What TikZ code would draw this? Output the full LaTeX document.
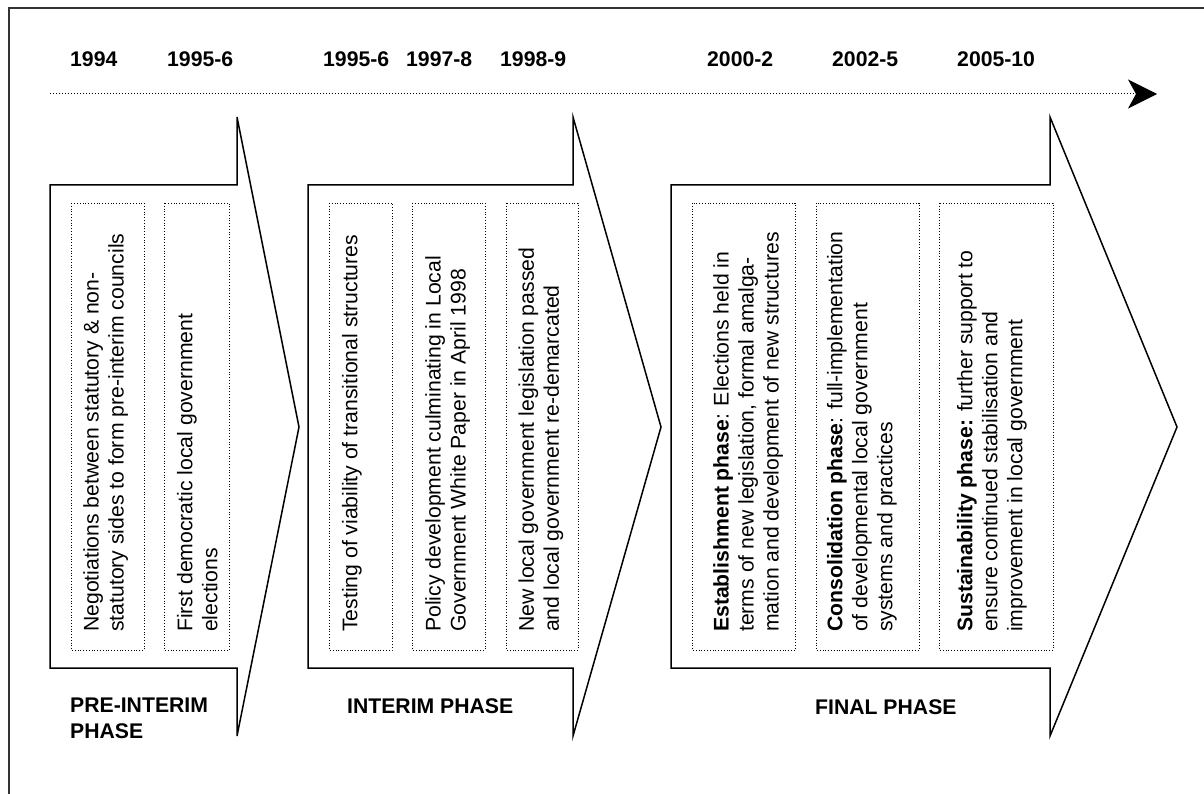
\documentclass[tikz,border=0pt]{standalone}
\usepackage{fontspec}
\setmainfont{Liberation Sans}
\usetikzlibrary{arrows.meta}
\begin{document}
\begin{tikzpicture}[x=1pt,y=-1pt,
  phasearrow/.style={line width=1.5pt, line join=miter, fill=white},
  dotbox/.style={line width=0.9pt, dash pattern=on 0.9pt off 1.9pt},
  yearlbl/.style={font=\fontsize{21.2}{25}\selectfont\bfseries, inner sep=0, anchor=base west},
  phaselbl/.style={font=\fontsize{21.2}{25.5}\selectfont\bfseries, inner sep=0, align=left},
  note/.style={font=\fontsize{21.2}{25}\selectfont, inner sep=0, rotate=90, anchor=north west, align=left}]
\useasboundingbox (0,0) rectangle (1204,794);

% frame
\draw[line width=1.5pt, black!80] (9,794) -- (9,8) -- (1204,8);

% years
\node[yearlbl] (y1) at (70,66.7) {1994};
\node[yearlbl] (y2) at (167,66.7) {1995-6};
\node[yearlbl] (y3) at (323,66.7) {1995-6};
\node[yearlbl] (y4) at (406,66.7) {1997-8};
\node[yearlbl] (y5) at (500,66.7) {1998-9};
\node[yearlbl] (y6) at (707,66.7) {2000-2};
\node[yearlbl] (y7) at (832,66.7) {2002-5};
\node[yearlbl] (y8) at (957,66.7) {2005-10};

% time axis
\coordinate (t0) at (50,94);
\coordinate (t1) at (1157,94);
\draw[line width=1pt, dash pattern=on 1pt off 2pt,
      -{Stealth[length=29pt,width=29pt,inset=8pt]}] (t0) -- (t1);

% phase arrows
\draw[phasearrow] (50,185) -- (237,185) -- (237,117) -- (299,427) -- (237,736) -- (237,668) -- (50,668) -- cycle;
\draw[phasearrow] (308,185) -- (573,185) -- (573,117) -- (661,427) -- (573,736) -- (573,668) -- (308,668) -- cycle;
\draw[phasearrow] (671,185) -- (1050,185) -- (1050,117) -- (1177,427) -- (1050,736) -- (1050,668) -- (671,668) -- cycle;

% event boxes
\draw[dotbox] (71,203) rectangle (144,650);
\draw[dotbox] (164,203) rectangle (229,650);
\draw[dotbox] (329,203) rectangle (392,650);
\draw[dotbox] (412,203) rectangle (485,650);
\draw[dotbox] (506,203) rectangle (578,650);
\draw[dotbox] (692,203) rectangle (795,650);
\draw[dotbox] (816,203) rectangle (919,650);
\draw[dotbox] (939,203) rectangle (1053,650);

% event texts
\node[note] (e1) at (83,632) {Negotiations between statutory \& non-\\statutory sides to form pre-interim councils};
\node[note] (e2) at (176.7,632) {First democratic local government\\elections};
\node[note] (e3) at (341.7,632) {Testing of viability of transitional structures};
\node[note] (e4) at (425,632) {Policy development culminating in Local\\Government White Paper in April 1998};
\node[note] (e5) at (518.3,632) {New local government legislation passed\\and local government re-demarcated};
\node[note] (e6) at (713,632) {\textbf{Establishment phase}: Elections held in\\terms of new legislation, formal amalga-\\mation and development of new structures};
\node[note] (e7) at (826.7,632) {\textbf{Consolidation phase}: full-implementation\\of developmental local government\\systems and practices};
\node[note] (e8) at (956.7,632) {\textbf{Sustainability phase:} further support to\\ensure continued stabilisation and\\improvement in local government};

% phase names
\node[phaselbl, anchor=north west] (p1) at (70,698) {PRE-INTERIM\\PHASE};
\node[yearlbl] (p2) at (347,713.3) {INTERIM PHASE};
\node[yearlbl] (p3) at (815,714) {FINAL PHASE};
\end{tikzpicture}
\end{document}
